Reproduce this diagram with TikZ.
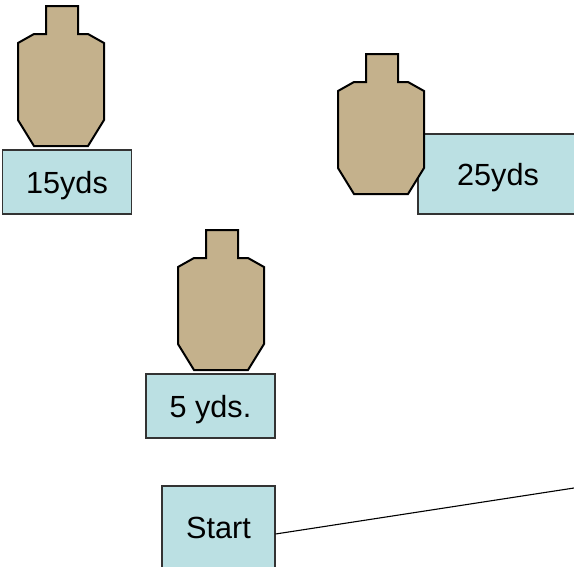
\documentclass[tikz,border=0pt]{standalone}
\usepackage{fontspec}
\setmainfont{Liberation Sans}
\definecolor{boxfill}{HTML}{BBE0E3}
\definecolor{tan}{HTML}{C4B18C}
\definecolor{boxline}{HTML}{333333}
\tikzset{
  x=1pt,y=-1pt,
  labelbox/.style={draw=boxline,fill=boxfill,line width=1.1pt,inner sep=0pt,text height=22pt,text depth=0pt,font=\fontsize{30.6}{30.6}\selectfont,anchor=center},
  wire/.style={draw=black,line width=1.1pt},
  pics/target/.style={code={
    \draw[fill=tan,draw=black,line width=2pt,line join=miter]
      (46,6) -- (78,6) -- (78,34) -- (88,34) -- (104,43) -- (104,120) -- (88,146)
      -- (34,146) -- (18,120) -- (18,43) -- (34,34) -- (46,34) -- cycle;
  }}
}
\begin{document}
\begin{tikzpicture}
\useasboundingbox (0,0) rectangle (574,566);
\node[labelbox,minimum width=128.5pt,minimum height=64pt] (b15) at (67,182) {15yds};
\node[labelbox,minimum width=160pt,minimum height=80pt] (b25) at (498,174) {25yds};
\node[labelbox,minimum width=129pt,minimum height=64pt] (b5) at (210.5,406) {5 yds.};
\node[labelbox,minimum width=113pt,minimum height=82pt] (start) at (218.5,527) {Start};
\coordinate (wireend) at (574,488);
\draw[wire] (start.east |- 0,534) -- (wireend);
\pic at (0,0) {target};
\pic at (320,48) {target};
\pic at (160,224) {target};
\end{tikzpicture}
\end{document}
